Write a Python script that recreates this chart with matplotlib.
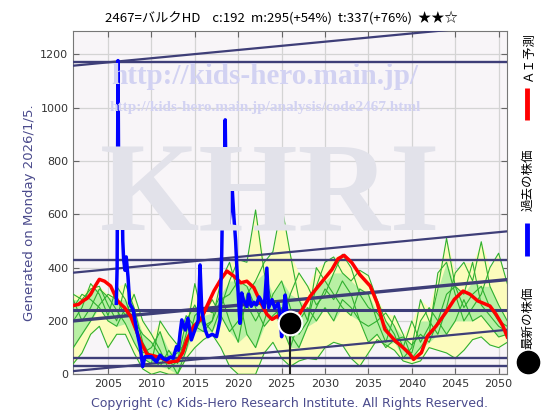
import numpy as np
import matplotlib
matplotlib.use("Agg")
import matplotlib.pyplot as plt

# ---- data ----
TITLE = "2467=バルクHD    c:192  m:295(+54%)  t:337(+76%)  ★★☆"
GENERATED = "Generated on Monday 2026/1/5."
COPYRIGHT = "Copyright (c) Kids-Hero Research Institute. All Rights Reserved."

years = list(range(2001, 2052))

# past stock price (blue)
past_x = [2005.95, 2006.05, 2006.15, 2006.25, 2006.35, 2006.5, 2006.6, 2006.7, 2006.8, 2006.95,
          2007.1, 2007.3, 2007.5, 2007.9, 2008.3, 2008.7, 2009.0, 2009.25, 2010.0, 2010.3,
          2010.6, 2011.0, 2011.4, 2011.75, 2012.2, 2012.5, 2012.9, 2013.1, 2013.3, 2013.5,
          2013.9, 2014.2, 2014.6, 2015.0, 2015.4, 2015.6, 2015.8, 2016.2, 2016.5, 2017.0,
          2017.5, 2017.9, 2018.1, 2018.25, 2018.4, 2018.5, 2018.6, 2018.75, 2018.9, 2019.1,
          2019.3, 2019.5, 2019.7, 2019.8, 2020.0, 2020.2, 2020.4, 2020.6, 2021.0, 2021.2,
          2021.5, 2021.8, 2022.1, 2022.4, 2022.6, 2023.0, 2023.3, 2023.5, 2023.9, 2024.2,
          2024.6, 2024.8, 2025.0, 2025.2, 2025.4, 2025.6, 2025.8, 2026.0]
past_y = [266, 400, 1176, 600, 812, 700, 760, 500, 430, 390,
          440, 366, 266, 241, 166, 104, 29, 66, 66, 55,
          47, 72, 58, 54, 65, 60, 104, 90, 154, 204,
          166, 210, 129, 166, 204, 410, 241, 166, 141, 150,
          141, 204, 454, 770, 600, 954, 700, 730, 554, 620,
          700, 591, 500, 429, 300, 191, 305, 280, 254, 300,
          255, 270, 260, 290, 279, 250, 398, 250, 280, 248,
          266, 229, 141, 230, 297, 229, 210, 192]

# AI forecast (red)
ai_x = [2001.0, 2001.6, 2002.1, 2002.6, 2003.0, 2003.5, 2004.0, 2004.6, 2005.3, 2006.1,
        2006.9, 2007.6, 2008.2, 2008.8, 2009.5, 2010.3, 2011.0, 2011.5, 2012.0, 2012.5,
        2013.0, 2013.6, 2014.1, 2014.9, 2015.7, 2016.4, 2017.2, 2018.0, 2018.7, 2019.5,
        2020.3, 2021.0, 2021.8, 2022.6, 2023.3, 2023.9, 2024.5, 2025.0, 2025.5, 2026.0,
        2026.5, 2027.15, 2028.3, 2029.4, 2030.8, 2031.5, 2032.2, 2033.1, 2034.0, 2035.2,
        2036.0, 2036.9, 2038.1, 2039.0, 2039.8, 2040.2, 2041.1, 2041.8, 2042.8, 2043.9,
        2044.9, 2045.9, 2046.7, 2047.6, 2049.0, 2049.7, 2050.5, 2051.0]
ai_y = [258, 262, 275, 285, 300, 330, 356, 349, 331, 275,
        250, 218, 169, 119, 75, 69, 62, 56, 44, 48,
        50, 81, 131, 181, 206, 256, 312, 356, 387, 368,
        343, 349, 325, 268, 225, 206, 218, 200, 215, 192,
        195, 231, 293, 337, 393, 433, 446, 418, 374, 331,
        268, 168, 125, 100, 75, 56, 81, 143, 181, 231,
        281, 312, 300, 275, 256, 225, 181, 140]

# simulated paths (green), one value per year 2001..2051
path_a = [300, 280, 320, 330, 260, 200, 340, 250, 120, 60,
          30, 90, 40, 150, 340, 200, 160, 250, 350, 430,
          420, 616, 380, 260, 200, 300, 380, 330, 260, 300,
          380, 450, 400, 300, 250, 230, 180, 120, 100, 200,
          120, 180, 320, 510, 330, 250, 300, 330, 250, 200, 180]
path_b = [200, 250, 340, 300, 220, 330, 280, 180, 80, 100,
          160, 60, 0, 90, 220, 250, 230, 300, 200, 120,
          300, 350, 420, 460, 635, 450, 280, 200, 330, 420,
          440, 380, 350, 390, 370, 280, 200, 150, 60, 100,
          280, 200, 150, 250, 380, 420, 350, 497, 330, 260, 200]
path_c = [100, 150, 200, 260, 300, 280, 220, 300, 200, 150,
          90, 20, 50, 200, 260, 180, 200, 350, 420, 300,
          150, 100, 200, 300, 350, 250, 150, 200, 400, 350,
          300, 250, 220, 320, 300, 200, 120, 220, 150, 60,
          100, 150, 380, 420, 300, 200, 250, 300, 400, 454, 340]
path_d = [40, 80, 150, 180, 100, 150, 150, 80, 20, 0,
          10, 0, 0, 60, 100, 130, 150, 100, 30, 0,
          0, 0, 80, 120, 60, 30, 50, 60, 55, 100,
          120, 110, 60, 30, 80, 130, 110, 90, 50, 40,
          50, 100, 90, 80, 60, 90, 130, 140, 110, 100, 120]
path_e = [280, 200, 250, 320, 290, 240, 190, 120, 60, 40,
          200, 150, 110, 220, 180, 160, 200, 280, 300, 350,
          330, 250, 180, 220, 250, 150, 100, 180, 250, 320,
          280, 350, 300, 200, 120, 150, 100, 130, 140, 110,
          150, 120, 200, 300, 330, 300, 420, 260, 220, 180, 160]
path_f = [250, 300, 280, 250, 200, 180, 250, 200, 150, 120,
          70, 60, 80, 120, 160, 220, 280, 220, 160, 200,
          260, 200, 260, 280, 180, 100, 200, 250, 200, 250,
          200, 280, 250, 200, 180, 200, 230, 180, 100, 80,
          200, 250, 200, 150, 200, 280, 200, 220, 180, 140, 150]

# support / resistance levels and trend channel
levels = [1172, 428, 241, 62, 31]
trend_x = [2001, 2051]
trend_start = [1157, 381, 200, 12]
trend_end = [1312, 536, 355, 167]

latest_year = 2026.0
latest_price = 192

NAVY = "#3e3e78"
TXT = "#4a4a8c"


def px(x, y):
    return x / 560, 1 - y / 420


fig = plt.figure(figsize=(5.6, 4.2), dpi=100)
ax = fig.add_axes([73.3 / 560, 1 - 374.3 / 420, 434 / 560, 343.3 / 420])
ax.set_facecolor("#f8f5f8")

# watermarks
wm = dict(transform=fig.transFigure, ha="center", va="center", family="Liberation Serif",
          fontweight="bold", zorder=1)
fig.text(*px(270, 200), "KHRI", fontsize=92, color="#e2e2ea", **wm)
fig.text(*px(265, 76), "http://kids-hero.main.jp/", fontsize=21, color="#d2d2f2", **wm)
fig.text(*px(265, 108), "http://kids-hero.main.jp/analysis/code2467.html", fontsize=11,
         color="#d2d2f2", **wm)

# forecast envelope
paths = np.array([path_a, path_b, path_c, path_d, path_e, path_f])
ordered = np.sort(paths, axis=0)
ax.fill_between(years, ordered[0], ordered[-1], color="#fcfcbc", lw=0, zorder=2)
ax.fill_between(years, ordered[1], ordered[-2], color="#b8f0a4", lw=0, zorder=2)
for p in paths:
    ax.plot(years, p, color="#30b030", lw=0.8, zorder=3)

for lv in levels:
    ax.axhline(lv, color=NAVY, lw=2.2 if lv == 241 else 1.7, zorder=4)
for s, e in zip(trend_start, trend_end):
    ax.plot(trend_x, [s, e], color=NAVY, lw=2.4 if s == 200 else 1.6, zorder=4)

ax.plot(ai_x, ai_y, color="#ff0000", lw=2.5, zorder=5)
ax.plot(past_x, past_y, color="#0000ff", lw=2.5, zorder=6)
ax.plot([latest_year, latest_year], [0, latest_price], color="#202020", lw=1.5, zorder=6)
ax.plot([latest_year], [latest_price], "o", ms=17, color="black", mec="white", mew=1.5, zorder=7)

ax.set_xlim(2001, 2051)
ax.set_ylim(0, 1287)
ax.set_xticks(range(2005, 2051, 5))
ax.set_yticks(range(0, 1201, 200))
ax.grid(True, color="#d4d4d4", lw=0.9)
ax.set_axisbelow(True)
ax.tick_params(direction="in", length=4, labelsize=8, labelcolor="#333333", color="#666666",
               right=True, top=True)
for sp in ax.spines.values():
    sp.set_color("#777777")
    sp.set_linewidth(0.8)

cjk = ["Noto Sans CJK JP", "DejaVu Sans"]
fig.text(*px(281, 18), TITLE, ha="center", va="center", fontsize=9.5, family=cjk)
fig.text(*px(30, 213), GENERATED, ha="center", va="center", rotation=90, fontsize=9.5, color=TXT)
fig.text(*px(289, 403), COPYRIGHT, ha="center", va="center", fontsize=9, color=TXT)

# right side legend
fig.text(*px(528, 57), "ＡＩ予測", ha="center", va="center", rotation=90, fontsize=9, family=cjk)
fig.text(*px(528, 180), "過去の株価", ha="center", va="center", rotation=90, fontsize=9, family=cjk)
fig.text(*px(528, 318), "最新の株価", ha="center", va="center", rotation=90, fontsize=9, family=cjk)
lg = fig.add_axes([0, 0, 1, 1], facecolor="none")
lg.set_xlim(0, 560)
lg.set_ylim(420, 0)
lg.axis("off")
lg.plot([527, 527], [88, 120], color="#ff0000", lw=3.5, solid_capstyle="butt")
lg.plot([527, 527], [223, 256], color="#0000ff", lw=3.5, solid_capstyle="butt")
lg.plot([528], [362], "o", ms=16, color="black")

fig.savefig("out.png", dpi=100)
